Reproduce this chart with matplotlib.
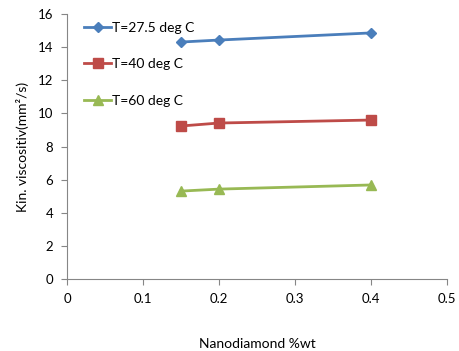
import matplotlib
matplotlib.use("Agg")
import matplotlib.pyplot as plt

plt.rcParams['font.family'] = ['Lato', 'DejaVu Sans']

x = [0.15, 0.2, 0.4]
v_27 = [14.31, 14.43, 14.86]
v_40 = [9.24, 9.42, 9.60]
v_60 = [5.31, 5.43, 5.68]
labels = ['T=27.5 deg C', 'T=40 deg C', 'T=60 deg C']
xticks = [0, 0.1, 0.2, 0.3, 0.4, 0.5]
yticks = [0, 2, 4, 6, 8, 10, 12, 14, 16]

fig = plt.figure(figsize=(4.59, 3.51), dpi=100)
ax = fig.add_axes([0.146, 0.205, 0.828, 0.755])

ax.plot(x, v_27, color='#4A7EBB', marker='D', markersize=5, lw=2, label=labels[0])
ax.plot(x, v_40, color='#BE4B48', marker='s', markersize=7, lw=2, label=labels[1])
ax.plot(x, v_60, color='#98B954', marker='^', markersize=7, lw=2, label=labels[2])

ax.set_xlim(0, 0.5)
ax.set_ylim(0, 16)
ax.set_xticks(xticks)
ax.set_xticklabels(['0', '0.1', '0.2', '0.3', '0.4', '0.5'])
ax.set_yticks(yticks)
for s in ['top', 'right']:
    ax.spines[s].set_visible(False)
for s in ['left', 'bottom']:
    ax.spines[s].set_color('#868686')
ax.tick_params(direction='out', color='#868686', length=4, labelsize=9.5, pad=6)
ax.set_xlabel('Nanodiamond %wt', fontsize=10, labelpad=24)
ax.set_ylabel('Kin. viscositiv(mm²/s)', fontsize=10, labelpad=6)

ax.legend(loc='upper left', bbox_to_anchor=(0.02, 1.007), frameon=False, fontsize=10,
          handlelength=1.9, handletextpad=0.1, labelspacing=1.75, borderaxespad=0.3)

fig.savefig('out.png', dpi=100)
